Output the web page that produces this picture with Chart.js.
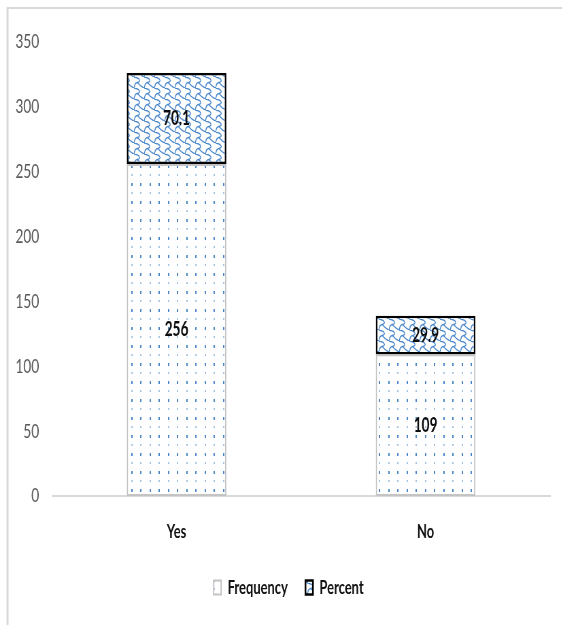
<!DOCTYPE html>
<html>
<head>
<meta charset="utf-8">
<script src="https://cdn.jsdelivr.net/npm/chart.js@4"></script>
<style>
  html, body { margin: 0; padding: 0; background: #fff; overflow: hidden; }
  #wrap { width: 562px; height: 625px; position: relative; overflow: hidden; }
  /* the chart is laid out wide and condensed horizontally, like the narrow Office look */
  #c { position: absolute; left: 0; top: 0; transform: scaleX(0.68); transform-origin: 0 0; }
</style>
</head>
<body>
<div id="wrap"><canvas id="c" width="826" height="625"></canvas></div>
<script>
const categories = ['Yes', 'No'];
const frequency = [256, 109];
const percent = [70.1, 29.9];
const yTicks = [0, 50, 100, 150, 200, 250, 300, 350];

const FONT = "Lato, 'Liberation Sans', sans-serif";

// Dotted fill: small blue dashes in columns, alternate rows lighter
function dotPattern() {
  const t = document.createElement('canvas');
  t.width = 27; t.height = 18;
  const g = t.getContext('2d');
  g.fillStyle = '#fff';
  g.fillRect(0, 0, 27, 18);
  g.fillStyle = '#4a86c8';
  g.fillRect(4, 3, 2, 3);
  g.fillRect(17, 3, 2, 3);
  g.fillStyle = '#a4c2e4';
  g.fillRect(4, 12, 2, 2);
  g.fillRect(17, 12, 2, 2);
  return g.createPattern(t, 'repeat');
}

// Wavy chain fill used for the percent segments
function wavePattern() {
  const w = 15, h = 11;
  const t = document.createElement('canvas');
  t.width = w; t.height = h;
  const g = t.getContext('2d');
  g.fillStyle = '#fff';
  g.fillRect(0, 0, w, h);
  g.strokeStyle = '#4a88cc';
  g.lineWidth = 1.3;
  for (const dx of [-w, 0, w]) {
    g.beginPath();
    g.moveTo(dx + 2, 0);
    g.bezierCurveTo(dx + 12, 1, dx + 12, 5, dx + 7, 5.5);
    g.bezierCurveTo(dx + 2, 6, dx + 3, 10, dx + 2, h);
    g.stroke();
    g.beginPath();
    g.moveTo(dx + 7, 5.5);
    g.bezierCurveTo(dx + 10, 8, dx + 14, 10, dx + 17, h);
    g.stroke();
  }
  return g.createPattern(t, 'repeat');
}

const frame = {
  id: 'frame',
  beforeDraw(chart) {
    const c = chart.ctx;
    c.save();
    c.fillStyle = '#fff';
    c.fillRect(0, 0, chart.width, chart.height);
    c.strokeStyle = '#d9d9d9';
    c.lineWidth = 2;
    c.beginPath();
    c.moveTo(11, 8);
    c.lineTo(chart.width, 8);
    c.stroke();
    c.lineWidth = 3;
    c.beginPath();
    c.moveTo(11, chart.height);
    c.lineTo(11, 7);
    c.stroke();
    c.restore();
  }
};

// centre the legend row a little right of the canvas middle
const legendShift = {
  id: 'legendShift',
  afterLayout(chart) {
    const lg = chart.legend;
    if (lg) { lg.left += 20; lg.right += 20; }
  }
};

const segmentLabels = {
  id: 'segmentLabels',
  afterDatasetsDraw(chart) {
    const c = chart.ctx;
    c.save();
    c.font = "bold 20px " + FONT;
    c.fillStyle = '#0d0d0d';
    c.textAlign = 'center';
    c.textBaseline = 'middle';
    chart.data.datasets.forEach((ds, i) => {
      chart.getDatasetMeta(i).data.forEach((bar, j) => {
        const y = (bar.y + bar.base) / 2;
        c.fillText(String(ds.data[j]), bar.x, y);
      });
    });
    c.restore();
  }
};

new Chart(document.getElementById('c'), {
  type: 'bar',
  data: {
    labels: categories,
    datasets: [
      {
        label: 'Frequency',
        data: frequency,
        backgroundColor: dotPattern(),
        borderColor: '#c4c4c4',
        borderWidth: 2,
        borderSkipped: false
      },
      {
        label: 'Percent',
        data: percent,
        backgroundColor: wavePattern(),
        borderColor: '#000',
        borderWidth: 2.5,
        borderSkipped: false
      }
    ]
  },
  options: {
    responsive: false,
    animation: false,
    devicePixelRatio: 1,
    layout: { padding: { left: 0, right: 17, top: 42, bottom: 18 } },
    datasets: { bar: { barPercentage: 0.4, categoryPercentage: 1.0 } },
    scales: {
      x: {
        stacked: true,
        grid: { display: false, drawTicks: false },
        border: { display: true, color: '#d9d9d9', width: 2 },
        ticks: { color: '#111', padding: 24, font: { family: FONT, size: 19, weight: 'bold' } },
        afterFit(s) { s.height = 56; }
      },
      y: {
        stacked: true,
        min: 0, max: 350,
        afterBuildTicks(s) { s.ticks = yTicks.map(v => ({ value: v })); },
        grid: { display: false, drawTicks: false },
        border: { display: false },
        ticks: { color: '#595959', padding: 19, font: { family: FONT, size: 20 } },
        afterFit(s) { s.width = 76.5; }
      }
    },
    plugins: {
      legend: {
        position: 'bottom',
        labels: {
          color: '#111',
          boxWidth: 11, boxHeight: 14,
          padding: 26,
          font: { family: FONT, size: 19, weight: 'bold' }
        }
      },
      tooltip: { enabled: false }
    }
  },
  plugins: [frame, legendShift, segmentLabels]
});
</script>
</body>
</html>
